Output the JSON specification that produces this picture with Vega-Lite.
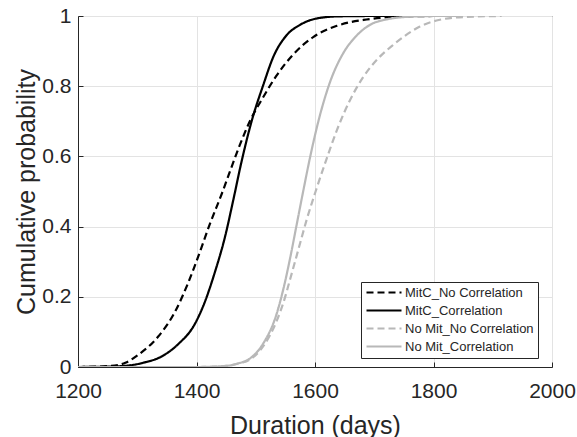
{
  "$schema": "https://vega.github.io/schema/vega-lite/v6.json",
  "width": 474,
  "height": 351,
  "autosize": "none",
  "padding": {"left": 78, "top": 16, "right": 25, "bottom": 70},
  "background": "white",
  "config": {
    "font": "Liberation Sans",
    "view": {"stroke": "#262626", "strokeWidth": 1},
    "axis": {
      "domainColor": "#262626",
      "tickColor": "#262626",
      "gridColor": "#e3e3e3",
      "labelColor": "#262626",
      "titleColor": "#262626",
      "labelFont": "Liberation Sans",
      "titleFont": "Liberation Sans",
      "labelFontSize": 21,
      "titleFontSize": 25,
      "titleFontWeight": "normal",
      "tickSize": -5
    }
  },
  "data": {
    "values": [
      {"series": "MitC_Correlation", "x": 1200, "p": 0},
      {"series": "MitC_Correlation", "x": 1250, "p": 0.001},
      {"series": "MitC_Correlation", "x": 1284, "p": 0.004},
      {"series": "MitC_Correlation", "x": 1310, "p": 0.012},
      {"series": "MitC_Correlation", "x": 1341, "p": 0.03},
      {"series": "MitC_Correlation", "x": 1369, "p": 0.065},
      {"series": "MitC_Correlation", "x": 1397, "p": 0.122},
      {"series": "MitC_Correlation", "x": 1414, "p": 0.185},
      {"series": "MitC_Correlation", "x": 1431, "p": 0.27},
      {"series": "MitC_Correlation", "x": 1448, "p": 0.37},
      {"series": "MitC_Correlation", "x": 1462, "p": 0.475},
      {"series": "MitC_Correlation", "x": 1476, "p": 0.585},
      {"series": "MitC_Correlation", "x": 1493, "p": 0.7},
      {"series": "MitC_Correlation", "x": 1513, "p": 0.805},
      {"series": "MitC_Correlation", "x": 1530, "p": 0.885},
      {"series": "MitC_Correlation", "x": 1552, "p": 0.945},
      {"series": "MitC_Correlation", "x": 1575, "p": 0.975},
      {"series": "MitC_Correlation", "x": 1603, "p": 0.993},
      {"series": "MitC_Correlation", "x": 1640, "p": 0.999},
      {"series": "MitC_Correlation", "x": 1700, "p": 1},
      {"series": "MitC_Correlation", "x": 1800, "p": 1},

      {"series": "MitC_No Correlation", "x": 1200, "p": 0},
      {"series": "MitC_No Correlation", "x": 1256, "p": 0.003},
      {"series": "MitC_No Correlation", "x": 1280, "p": 0.012},
      {"series": "MitC_No Correlation", "x": 1301, "p": 0.034},
      {"series": "MitC_No Correlation", "x": 1335, "p": 0.086},
      {"series": "MitC_No Correlation", "x": 1363, "p": 0.155},
      {"series": "MitC_No Correlation", "x": 1386, "p": 0.24},
      {"series": "MitC_No Correlation", "x": 1403, "p": 0.315},
      {"series": "MitC_No Correlation", "x": 1422, "p": 0.405},
      {"series": "MitC_No Correlation", "x": 1443, "p": 0.495},
      {"series": "MitC_No Correlation", "x": 1456, "p": 0.555},
      {"series": "MitC_No Correlation", "x": 1473, "p": 0.632},
      {"series": "MitC_No Correlation", "x": 1490, "p": 0.7},
      {"series": "MitC_No Correlation", "x": 1513, "p": 0.77},
      {"series": "MitC_No Correlation", "x": 1535, "p": 0.83},
      {"series": "MitC_No Correlation", "x": 1563, "p": 0.89},
      {"series": "MitC_No Correlation", "x": 1597, "p": 0.94},
      {"series": "MitC_No Correlation", "x": 1637, "p": 0.972},
      {"series": "MitC_No Correlation", "x": 1687, "p": 0.99},
      {"series": "MitC_No Correlation", "x": 1740, "p": 0.998},
      {"series": "MitC_No Correlation", "x": 1800, "p": 1},

      {"series": "No Mit_Correlation", "x": 1200, "p": 0},
      {"series": "No Mit_Correlation", "x": 1400, "p": 0},
      {"series": "No Mit_Correlation", "x": 1450, "p": 0.003},
      {"series": "No Mit_Correlation", "x": 1470, "p": 0.01},
      {"series": "No Mit_Correlation", "x": 1490, "p": 0.024},
      {"series": "No Mit_Correlation", "x": 1513, "p": 0.068},
      {"series": "No Mit_Correlation", "x": 1535, "p": 0.15},
      {"series": "No Mit_Correlation", "x": 1547, "p": 0.225},
      {"series": "No Mit_Correlation", "x": 1558, "p": 0.31},
      {"series": "No Mit_Correlation", "x": 1569, "p": 0.405},
      {"series": "No Mit_Correlation", "x": 1580, "p": 0.5},
      {"series": "No Mit_Correlation", "x": 1592, "p": 0.6},
      {"series": "No Mit_Correlation", "x": 1608, "p": 0.715},
      {"series": "No Mit_Correlation", "x": 1625, "p": 0.81},
      {"series": "No Mit_Correlation", "x": 1648, "p": 0.895},
      {"series": "No Mit_Correlation", "x": 1668, "p": 0.94},
      {"series": "No Mit_Correlation", "x": 1693, "p": 0.975},
      {"series": "No Mit_Correlation", "x": 1720, "p": 0.99},
      {"series": "No Mit_Correlation", "x": 1760, "p": 0.998},
      {"series": "No Mit_Correlation", "x": 1800, "p": 1},
      {"series": "No Mit_Correlation", "x": 1850, "p": 1},

      {"series": "No Mit_No Correlation", "x": 1200, "p": 0},
      {"series": "No Mit_No Correlation", "x": 1400, "p": 0},
      {"series": "No Mit_No Correlation", "x": 1450, "p": 0.003},
      {"series": "No Mit_No Correlation", "x": 1470, "p": 0.01},
      {"series": "No Mit_No Correlation", "x": 1490, "p": 0.021},
      {"series": "No Mit_No Correlation", "x": 1513, "p": 0.06},
      {"series": "No Mit_No Correlation", "x": 1535, "p": 0.13},
      {"series": "No Mit_No Correlation", "x": 1547, "p": 0.185},
      {"series": "No Mit_No Correlation", "x": 1558, "p": 0.25},
      {"series": "No Mit_No Correlation", "x": 1572, "p": 0.335},
      {"series": "No Mit_No Correlation", "x": 1586, "p": 0.42},
      {"series": "No Mit_No Correlation", "x": 1601, "p": 0.5},
      {"series": "No Mit_No Correlation", "x": 1620, "p": 0.595},
      {"series": "No Mit_No Correlation", "x": 1637, "p": 0.675},
      {"series": "No Mit_No Correlation", "x": 1659, "p": 0.76},
      {"series": "No Mit_No Correlation", "x": 1681, "p": 0.825},
      {"series": "No Mit_No Correlation", "x": 1706, "p": 0.878},
      {"series": "No Mit_No Correlation", "x": 1730, "p": 0.915},
      {"series": "No Mit_No Correlation", "x": 1749, "p": 0.94},
      {"series": "No Mit_No Correlation", "x": 1777, "p": 0.97},
      {"series": "No Mit_No Correlation", "x": 1805, "p": 0.987},
      {"series": "No Mit_No Correlation", "x": 1850, "p": 0.997},
      {"series": "No Mit_No Correlation", "x": 1915, "p": 1}
    ]
  },
  "mark": {"type": "line", "strokeWidth": 2.2, "interpolate": "monotone", "clip": true},
  "encoding": {
    "x": {
      "field": "x", "type": "quantitative",
      "scale": {"domain": [1200, 2000], "nice": false},
      "axis": {"values": [1200, 1400, 1600, 1800, 2000], "format": "d", "title": "Duration (days)", "labelPadding": 18, "titlePadding": 12, "labelFlush": false, "labelOverlap": false}
    },
    "y": {
      "field": "p", "type": "quantitative",
      "scale": {"domain": [0, 1], "nice": false},
      "axis": {"values": [0, 0.2, 0.4, 0.6, 0.8, 1], "title": "Cumulative probability", "labelPadding": 12, "titlePadding": 2, "labelFlush": false, "labelOverlap": false, "labelExpr": "datum.value == 0 ? '0' : datum.value == 1 ? '1' : format(datum.value, '.1f')"}
    },
    "color": {
      "field": "series", "type": "nominal",
      "scale": {
        "domain": ["MitC_No Correlation", "MitC_Correlation", "No Mit_No Correlation", "No Mit_Correlation"],
        "range": ["#000000", "#000000", "#b8b8b8", "#b8b8b8"]
      },
      "legend": {
        "title": null,
        "orient": "none",
        "legendX": 283,
        "legendY": 266,
        "symbolType": "M-1,0H6",
        "symbolSize": 100,
        "symbolStrokeWidth": 2.2,
        "labelFontSize": 13,
        "labelColor": "#262626",
        "labelFont": "Liberation Sans",
        "strokeColor": "#262626",
        "fillColor": "white",
        "padding": 4,
        "rowPadding": 4,
        "labelOffset": 27
      }
    },
    "strokeDash": {
      "field": "series", "type": "nominal",
      "scale": {
        "domain": ["MitC_No Correlation", "MitC_Correlation", "No Mit_No Correlation", "No Mit_Correlation"],
        "range": [[7, 4], [1, 0], [7, 4], [1, 0]]
      },
      "legend": null
    }
  }
}
